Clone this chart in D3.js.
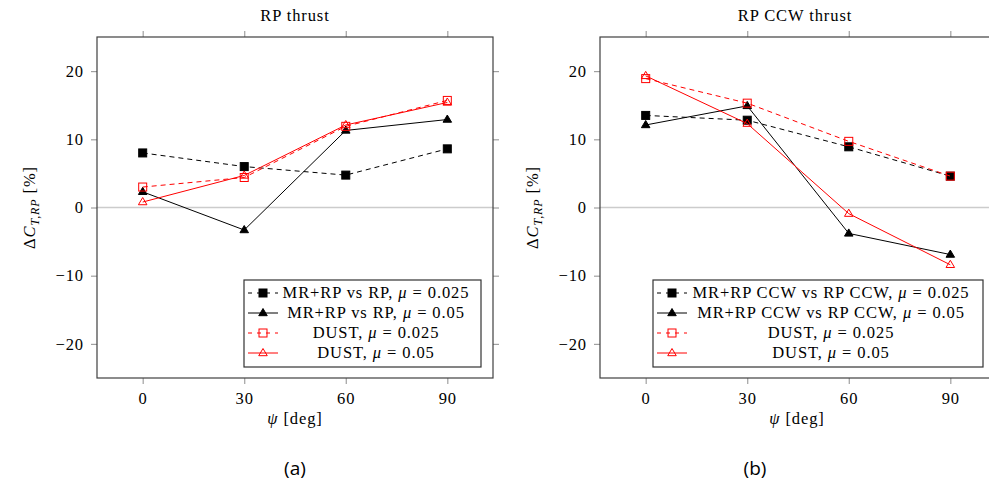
<!DOCTYPE html>
<html><head><meta charset="utf-8">
<script src="https://cdn.jsdelivr.net/npm/d3@7"></script>
<style>body{margin:0;background:#fff}svg{display:block}</style>
</head><body>
<svg id="c" width="989" height="483"></svg>
<script>
const psi = [0, 30, 60, 90];
const yTicks = [-20, -10, 0, 10, 20];
const leftTitle = "RP thrust";
const rightTitle = "RP CCW thrust";
const leftA = [8.0, 6.0, 4.75, 8.6];
const leftB = [2.3, -3.3, 11.3, 12.9];
const leftC = [3.0, 4.4, 11.9, 15.7];
const leftD = [0.8, 4.7, 12.1, 15.4];
const rightA = [13.5, 12.8, 8.9, 4.6];
const rightB = [12.1, 14.9, -3.8, -6.9];
const rightC = [18.9, 15.3, 9.7, 4.6];
const rightD = [19.3, 12.3, -0.9, -8.4];
const leftNames = ["MR+RP vs RP, ", "MR+RP vs RP, ", "DUST, ", "DUST, "];
const rightNames = ["MR+RP CCW vs RP CCW, ", "MR+RP CCW vs RP CCW, ", "DUST, ", "DUST, "];
const muVals = ["0.025", "0.05", "0.025", "0.05"];

const svg = d3.select("#c");
const SERIF = "'Liberation Serif'";
const FS = 16.5;
const LS = "0.9px";
function txt(sel) {
  return sel.style("font-family", SERIF).style("font-size", FS + "px").style("letter-spacing", LS).attr("fill", "#000");
}
const styles = [
  {color:"#000", dash:"5,4", marker:"square", fill:"#000"},
  {color:"#000", dash:null, marker:"tri", fill:"#000"},
  {color:"#ff0000", dash:"5,4", marker:"square", fill:"none"},
  {color:"#ff0000", dash:null, marker:"tri", fill:"none"}
];

function marker(g, type, x, y, st) {
  if (type === "square") {
    const s = 8;
    g.append("rect").attr("x", x - s/2).attr("y", y - s/2).attr("width", s).attr("height", s)
      .attr("fill", st.fill === "none" ? "none" : st.fill)
      .attr("stroke", st.color).attr("stroke-width", 1);
  } else {
    const s = 4.5;
    const p = [[x, y - s], [x - s*0.95, y + s*0.6], [x + s*0.95, y + s*0.6]];
    g.append("path").attr("d", "M" + p.map(q => q.join(",")).join("L") + "Z")
      .attr("fill", st.fill === "none" ? "none" : st.fill)
      .attr("stroke", st.color).attr("stroke-width", 1);
  }
}

function panel(opts) {
  const {x0, x1, y0, y1, title, series, names, legend} = opts;
  const g = svg.append("g");
  const x = d3.scaleLinear().domain([-13.5, 103.5]).range([x0, x1]);
  const y = d3.scaleLinear().domain([-25, 25]).range([y1, y0]);
  const clipId = "clip" + Math.round(x0);
  svg.append("clipPath").attr("id", clipId).append("rect")
    .attr("x", x0).attr("y", y0).attr("width", x1 - x0).attr("height", y1 - y0);

  const tickCol = "#a0a0a0";
  const axB = g.append("g").attr("transform", `translate(0,${y1})`)
    .call(d3.axisBottom(x).tickValues(psi).tickSize(6).tickPadding(8));
  const axT = g.append("g").attr("transform", `translate(0,${y0})`)
    .call(d3.axisTop(x).tickValues(psi).tickSize(6).tickFormat(""));
  const axL = g.append("g").attr("transform", `translate(${x0},0)`)
    .call(d3.axisLeft(y).tickValues(yTicks).tickSize(6).tickPadding(7));
  const axR = g.append("g").attr("transform", `translate(${x1},0)`)
    .call(d3.axisRight(y).tickValues(yTicks).tickSize(6).tickFormat(""));
  [axB, axT, axL, axR].forEach(a => {
    a.attr("font-family", null).attr("font-size", null);
    a.select(".domain").remove();
    a.selectAll("line").attr("stroke", tickCol).attr("stroke-width", 1.2);
    txt(a.selectAll("text"));
  });
  axL.selectAll("text").text(d => d < 0 ? "\u2212" + Math.abs(d) : d);

  g.append("line").attr("x1", x0).attr("x2", x1).attr("y1", y(0)).attr("y2", y(0))
    .attr("stroke", "#cccccc").attr("stroke-width", 1.5);

  g.append("rect").attr("x", x0).attr("y", y0).attr("width", x1 - x0).attr("height", y1 - y0)
    .attr("fill", "none").attr("stroke", "#404040").attr("stroke-width", 1.2);

  const pg = g.append("g").attr("clip-path", `url(#${clipId})`);
  const line = d3.line().x((d, i) => x(psi[i])).y(d => y(d));
  series.forEach((vals, k) => {
    const st = styles[k];
    pg.append("path").attr("d", line(vals)).attr("fill", "none")
      .attr("stroke", st.color).attr("stroke-width", 1)
      .attr("stroke-dasharray", st.dash);
    vals.forEach((v, i) => marker(pg, st.marker, x(psi[i]), y(v), st));
  });

  txt(g.append("text").attr("x", opts.titleX).attr("y", 21).attr("text-anchor", "middle")).text(title);

  const xl = txt(g.append("text").attr("x", opts.xlabX).attr("y", 424).attr("text-anchor", "middle"));
  xl.append("tspan").style("font-style", "italic").text("\u03c8");
  xl.append("tspan").text(" [deg]");

  const yl = txt(g.append("text").attr("transform", `translate(${x0 - 62},${y(0)}) rotate(-90)`)
    .attr("text-anchor", "middle"));
  yl.append("tspan").text("\u0394");
  yl.append("tspan").style("font-style", "italic").text("C");
  yl.append("tspan").style("font-style", "italic").style("font-size", "12px").attr("dy", 4).text("T,RP");
  yl.append("tspan").attr("dy", -4).text(" [%]");

  const L = legend;
  g.append("rect").attr("x", L.x).attr("y", L.y).attr("width", L.w).attr("height", L.h)
    .attr("fill", "#fff").attr("stroke", "#333").attr("stroke-width", 1.2);
  names.forEach((nm, k) => {
    const st = styles[k];
    const ry = L.y + 13 + k * 20;
    const sx0 = L.x + 4, sx1 = L.x + 34, mx = L.x + 19;
    g.append("line").attr("x1", sx0).attr("x2", sx1).attr("y1", ry).attr("y2", ry)
      .attr("stroke", st.color).attr("stroke-width", 1)
      .attr("stroke-dasharray", st.dash ? "4,5" : null);
    marker(g, st.marker, mx, ry, st);
    const t = txt(g.append("text").attr("x", L.tx).attr("y", ry + 5).attr("text-anchor", "middle"));
    t.append("tspan").text(nm);
    t.append("tspan").style("font-style", "italic").text("\u03bc");
    t.append("tspan").text(" = " + muVals[k]);
  });
}

panel({x0: 97, x1: 493, y0: 37, y1: 378, title: leftTitle, titleX: 295,
  series: [leftA, leftB, leftC, leftD], names: leftNames, xlabX: 295,
  legend: {x: 244, y: 280, w: 237, h: 87, tx: 376}});
panel({x0: 600, x1: 996, y0: 37, y1: 378, title: rightTitle, titleX: 795,
  series: [rightA, rightB, rightC, rightD], names: rightNames, xlabX: 797,
  legend: {x: 653, y: 280, w: 330, h: 87, tx: 831}});

["(a)", "(b)"].forEach((s, i) => {
  svg.append("text").attr("x", i ? 755 : 295).attr("y", 475).attr("text-anchor", "middle")
    .style("font-family", "'Open Sans'").style("font-size", "19px").text(s);
});
</script>
</body></html>
